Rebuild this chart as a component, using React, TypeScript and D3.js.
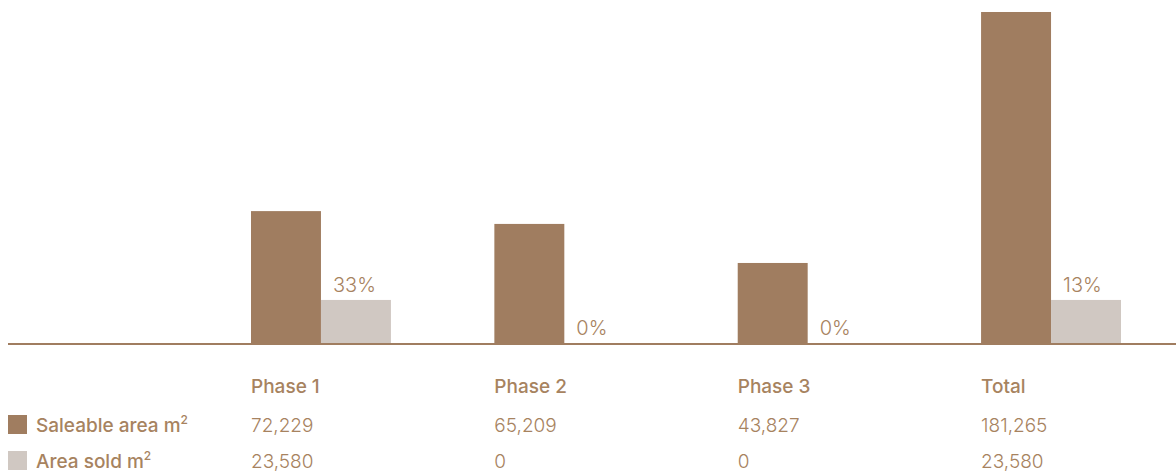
import React from "react";
import * as d3 from "d3";

const categories = ["Phase 1", "Phase 2", "Phase 3", "Total"];
const saleableArea = [72229, 65209, 43827, 181265];
const areaSold = [23580, 0, 0, 23580];
const soldPercent = ["33%", "0%", "0%", "13%"];
const seriesNames = ["Saleable area m", "Area sold m"];

const W = 1176;
const H = 475;
const BROWN = "#a07d60";
const LIGHT = "#d0c8c2";
const TEXT = "#a7835f";
const FONT = "Inter, 'Noto Sans', sans-serif";

export default function App() {
  const x = d3.scaleBand<string>().domain(categories).range([251, 1121]).paddingInner(0.425).paddingOuter(0);
  const y = d3.scaleLinear().domain([0, d3.max(saleableArea) as number]).range([343, 12]);
  const half = x.bandwidth() / 2;
  const fmt = d3.format(",");
  const rows = [saleableArea, areaSold];
  const colors = [BROWN, LIGHT];
  const rowBase = [432, 468];

  return (
    <svg width={W} height={H} style={{ position: "absolute", left: 0, top: 0, background: "#fff" }} fontFamily={FONT}>
      {categories.map((c, i) => (
        <g key={c}>
          <rect x={x(c)} y={y(saleableArea[i])} width={half} height={y(0) - y(saleableArea[i])} fill={BROWN} />
          <rect x={(x(c) as number) + half} y={y(areaSold[i])} width={half} height={y(0) - y(areaSold[i])} fill={LIGHT} />
          <text x={(x(c) as number) + half + 12} y={y(areaSold[i]) - 8} fontSize={20} fontWeight={300} fill={TEXT}>
            {soldPercent[i]}
          </text>
          <text x={x(c)} y={393} fontSize={19} fontWeight={500} fill={TEXT}>{c}</text>
          {rows.map((r, j) => (
            <text key={j} x={x(c)} y={rowBase[j]} fontSize={19} fontWeight={300} fill={TEXT}>{fmt(r[i])}</text>
          ))}
        </g>
      ))}
      <line x1={8} x2={W} y1={344} y2={344} stroke={BROWN} strokeWidth={2} />
      {seriesNames.map((s, j) => (
        <g key={s}>
          <rect x={8} y={rowBase[j] - 17} width={19} height={19} fill={colors[j]} />
          <text x={36} y={rowBase[j]} fontSize={19} fontWeight={500} fill={TEXT}>
            {s}
            <tspan fontSize={12} dy={-8}>2</tspan>
          </text>
        </g>
      ))}
    </svg>
  );
}
